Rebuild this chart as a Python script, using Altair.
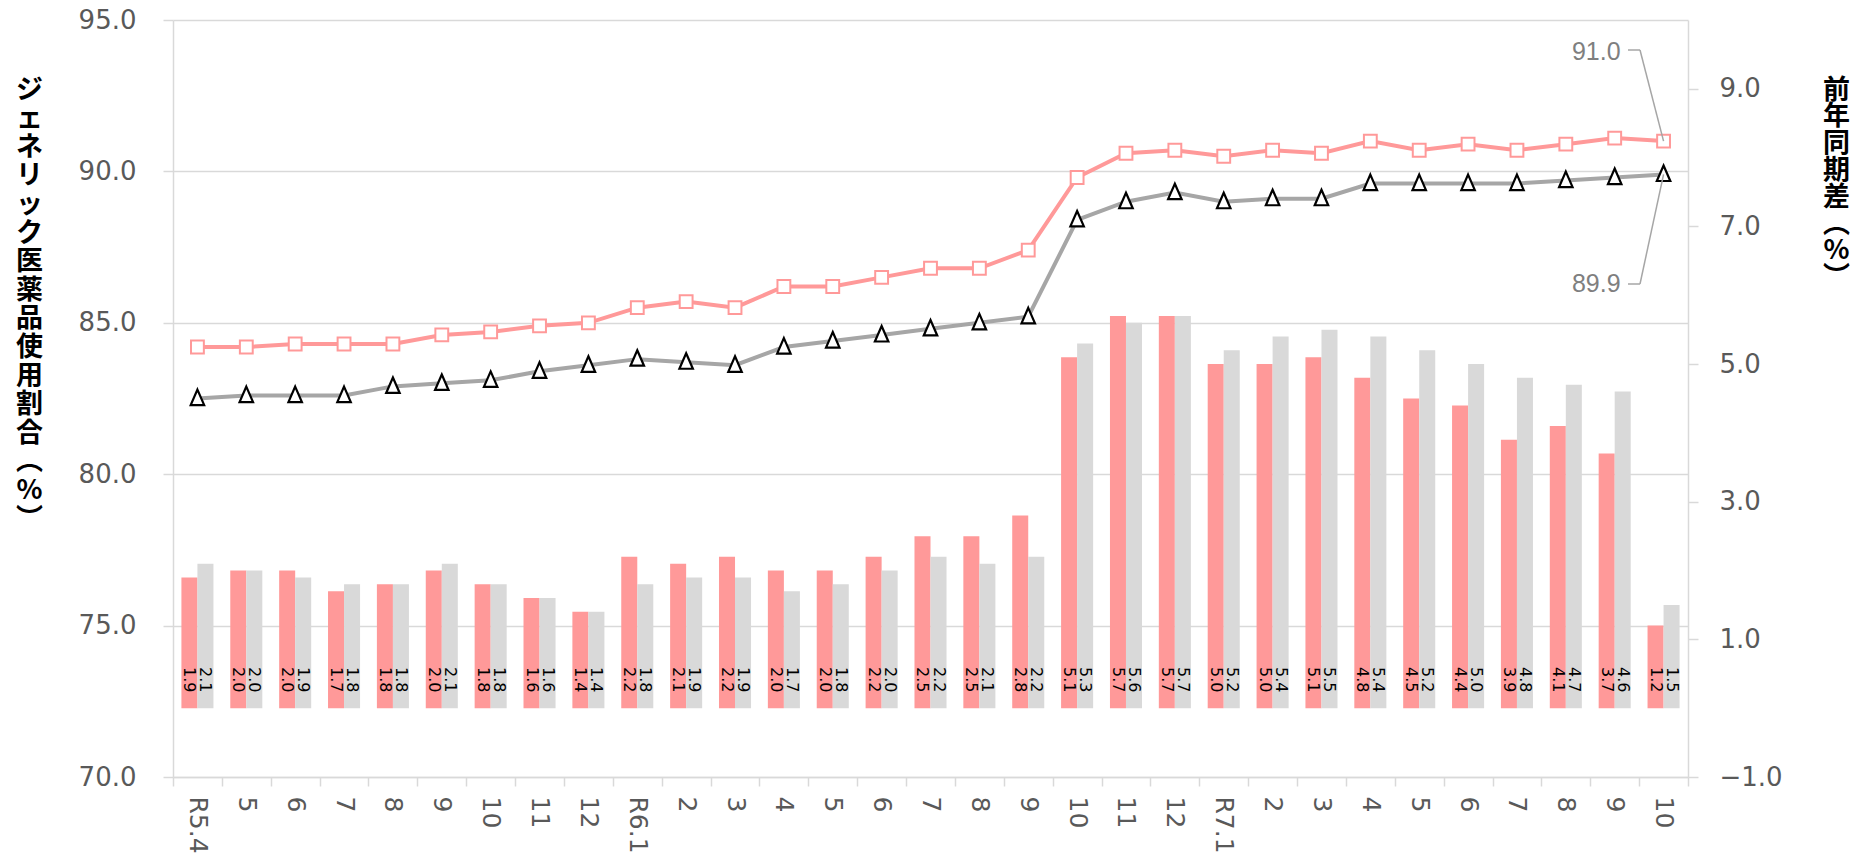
import altair as alt
import pandas as pd

# ---- data ----
labels = ["R5.4", "5", "6", "7", "8", "9", "10", "11", "12",
          "R6.1", "2", "3", "4", "5", "6", "7", "8", "9", "10", "11", "12",
          "R7.1", "2", "3", "4", "5", "6", "7", "8", "9", "10"]

share_pink = [84.2, 84.2, 84.3, 84.3, 84.3, 84.6, 84.7, 84.9, 85.0,
              85.5, 85.7, 85.5, 86.2, 86.2, 86.5, 86.8, 86.8, 87.4, 89.8, 90.6, 90.7,
              90.5, 90.7, 90.6, 91.0, 90.7, 90.9, 90.7, 90.9, 91.1, 91.0]
share_gray = [82.5, 82.6, 82.6, 82.6, 82.9, 83.0, 83.1, 83.4, 83.6,
              83.8, 83.7, 83.6, 84.2, 84.4, 84.6, 84.8, 85.0, 85.2, 88.4, 89.0, 89.3,
              89.0, 89.1, 89.1, 89.6, 89.6, 89.6, 89.6, 89.7, 89.8, 89.9]

diff_pink = [1.9, 2.0, 2.0, 1.7, 1.8, 2.0, 1.8, 1.6, 1.4,
             2.2, 2.1, 2.2, 2.0, 2.0, 2.2, 2.5, 2.5, 2.8, 5.1, 5.7, 5.7,
             5.0, 5.0, 5.1, 4.8, 4.5, 4.4, 3.9, 4.1, 3.7, 1.2]
diff_gray = [2.1, 2.0, 1.9, 1.8, 1.8, 2.1, 1.8, 1.6, 1.4,
             1.8, 1.9, 1.9, 1.7, 1.8, 2.0, 2.2, 2.1, 2.2, 5.3, 5.6, 5.7,
             5.2, 5.4, 5.5, 5.4, 5.2, 5.0, 4.8, 4.7, 4.6, 1.5]

left_ticks = [70, 75, 80, 85, 90, 95]
right_ticks = [-1, 1, 3, 5, 7, 9]
left_title = list("ジェネリック医薬品使用割合") + ["︵", "%", "︶"]
right_title = list("前年同期差") + ["︵", "%", "︶"]

PINK = "#FF9999"
GRAYBAR = "#D9D9D9"
GRAYLINE = "#A6A6A6"
AXIS_GRAY = "#D9D9D9"
LABEL_GRAY = "#595959"

n = len(labels)
idx = list(range(n))

bars_df = pd.DataFrame({
    "i": idx * 2,
    "series": ["pink"] * n + ["gray"] * n,
    "diff": diff_pink + diff_gray,
})
line_df = pd.DataFrame({"i": idx, "pink": share_pink, "gray": share_gray})
ann_pink = pd.DataFrame({"i": [n - 1], "v": [share_pink[-1]]})
ann_gray = pd.DataFrame({"i": [n - 1], "v": [share_gray[-1]]})
one = pd.DataFrame({"a": [0]})

label_expr = "[" + ",".join("'" + s + "'" for s in labels) + "][datum.value]"

X = alt.X(
    "i:O",
    scale=alt.Scale(paddingInner=0, paddingOuter=0),
    axis=alt.Axis(
        title=None, labelExpr=label_expr, labelAngle=90, labelAlign="left",
        labelBaseline="middle", tickBand="extent", tickSize=9, labelPadding=10,
        grid=False, labelFontSize=25,
    ),
)

yR_scale = alt.Scale(domain=[-1, 10], nice=False)
yR_axis = alt.Axis(
    orient="right", values=right_ticks, format=".1f", grid=False,
    tickSize=10, labelPadding=21,
    title=right_title, titleAngle=0, titleAlign="center", titleBaseline="top",
    titleX=148, titleY=57, titleFont="Noto Sans CJK JP", titleFontSize=27,
    titleLineHeight=26.8, titleColor="black", titleFontWeight="bold",
)

yL_scale = alt.Scale(domain=[70, 95], nice=False, zero=False)
yL_axis = alt.Axis(
    orient="left", values=left_ticks, format=".1f", grid=True,
    tickSize=10, labelPadding=27,
    title=left_title, titleAngle=0, titleAlign="center", titleBaseline="top",
    titleX=-144, titleY=57, titleFont="Noto Sans CJK JP", titleFontSize=27,
    titleLineHeight=28.6, titleColor="black", titleFontWeight="bold",
)

xoff = alt.XOffset("series:N", sort=["pink", "gray"],
                   scale=alt.Scale(paddingInner=0, paddingOuter=0.525))

bars = alt.Chart(bars_df).mark_bar().encode(
    x=X,
    xOffset=xoff,
    y=alt.Y("diff:Q", scale=yR_scale, axis=yR_axis),
    color=alt.Color("series:N", scale=alt.Scale(domain=["pink", "gray"],
                                                range=[PINK, GRAYBAR]), legend=None),
)
bar_text = alt.Chart(bars_df).mark_text(
    angle=90, align="left", baseline="middle", font="DejaVu Sans",
    fontSize=16, color="black",
).encode(
    x=X, xOffset=xoff, y=alt.value(647),
    text=alt.Text("diff:Q", format=".1f"),
)
bar_layer = alt.layer(bars, bar_text)

tri = "M0,-1.15L0.87,0.85L-0.87,0.85Z"

gray_line = alt.Chart(line_df).mark_line(color=GRAYLINE, strokeWidth=4).encode(
    x=X, y=alt.Y("gray:Q", scale=yL_scale, axis=yL_axis))
gray_pts = alt.Chart(line_df).mark_point(
    shape=tri, size=240, filled=True, fill="white", stroke="black",
    strokeWidth=2.2, opacity=1).encode(
    x=X, y=alt.Y("gray:Q", scale=yL_scale, axis=yL_axis))
pink_line = alt.Chart(line_df).mark_line(color=PINK, strokeWidth=4).encode(
    x=X, y=alt.Y("pink:Q", scale=yL_scale, axis=yL_axis))
pink_pts = alt.Chart(line_df).mark_point(
    shape="square", size=165, filled=True, fill="white", stroke=PINK,
    strokeWidth=2, opacity=1).encode(
    x=X, y=alt.Y("pink:Q", scale=yL_scale, axis=yL_axis))

ann_style = dict(align="right", baseline="middle", font="Liberation Sans",
                 fontSize=25, color="#7F7F7F", dx=-43)
ann_text_pink = alt.Chart(ann_pink).mark_text(dy=-89, **ann_style).encode(
    x=X, y=alt.Y("v:Q", scale=yL_scale, axis=yL_axis),
    text=alt.Text("v:Q", format=".1f"))
ann_text_gray = alt.Chart(ann_gray).mark_text(dy=110, **ann_style).encode(
    x=X, y=alt.Y("v:Q", scale=yL_scale, axis=yL_axis),
    text=alt.Text("v:Q", format=".1f"))

lead = dict(color=GRAYLINE, strokeWidth=1.5)
lead_pink_d = alt.Chart(ann_pink).mark_rule(**lead).encode(
    x=X, y=alt.Y("v:Q", scale=yL_scale, axis=yL_axis),
    x2=alt.value(1467), y2=alt.value(30))
lead_pink_h = alt.Chart(one).mark_rule(**lead).encode(
    x=alt.value(1455), x2=alt.value(1467), y=alt.value(30))
lead_gray_d = alt.Chart(ann_gray).mark_rule(**lead).encode(
    x=X, y=alt.Y("v:Q", scale=yL_scale, axis=yL_axis),
    x2=alt.value(1467), y2=alt.value(264))
lead_gray_h = alt.Chart(one).mark_rule(**lead).encode(
    x=alt.value(1455), x2=alt.value(1467), y=alt.value(264))

line_layer = alt.layer(gray_line, gray_pts, pink_line, pink_pts,
                       lead_pink_d, lead_pink_h, lead_gray_d, lead_gray_h,
                       ann_text_pink, ann_text_gray)

chart = alt.layer(bar_layer, line_layer).resolve_scale(y="independent").properties(
    width=1515, height=757,
    autosize=alt.AutoSizeParams(type="none"),
    padding={"left": 165, "top": 12, "right": 170, "bottom": 77},
).configure_view(stroke=None).configure_axis(
    domainColor=AXIS_GRAY, domainWidth=1.5, tickColor=AXIS_GRAY, tickWidth=1.5,
    gridColor=AXIS_GRAY, gridWidth=1.5, labelFont="DejaVu Sans", labelFontSize=26,
    labelColor=LABEL_GRAY,
)

chart.save("out.html", embed_options={"renderer": "svg", "actions": False})
